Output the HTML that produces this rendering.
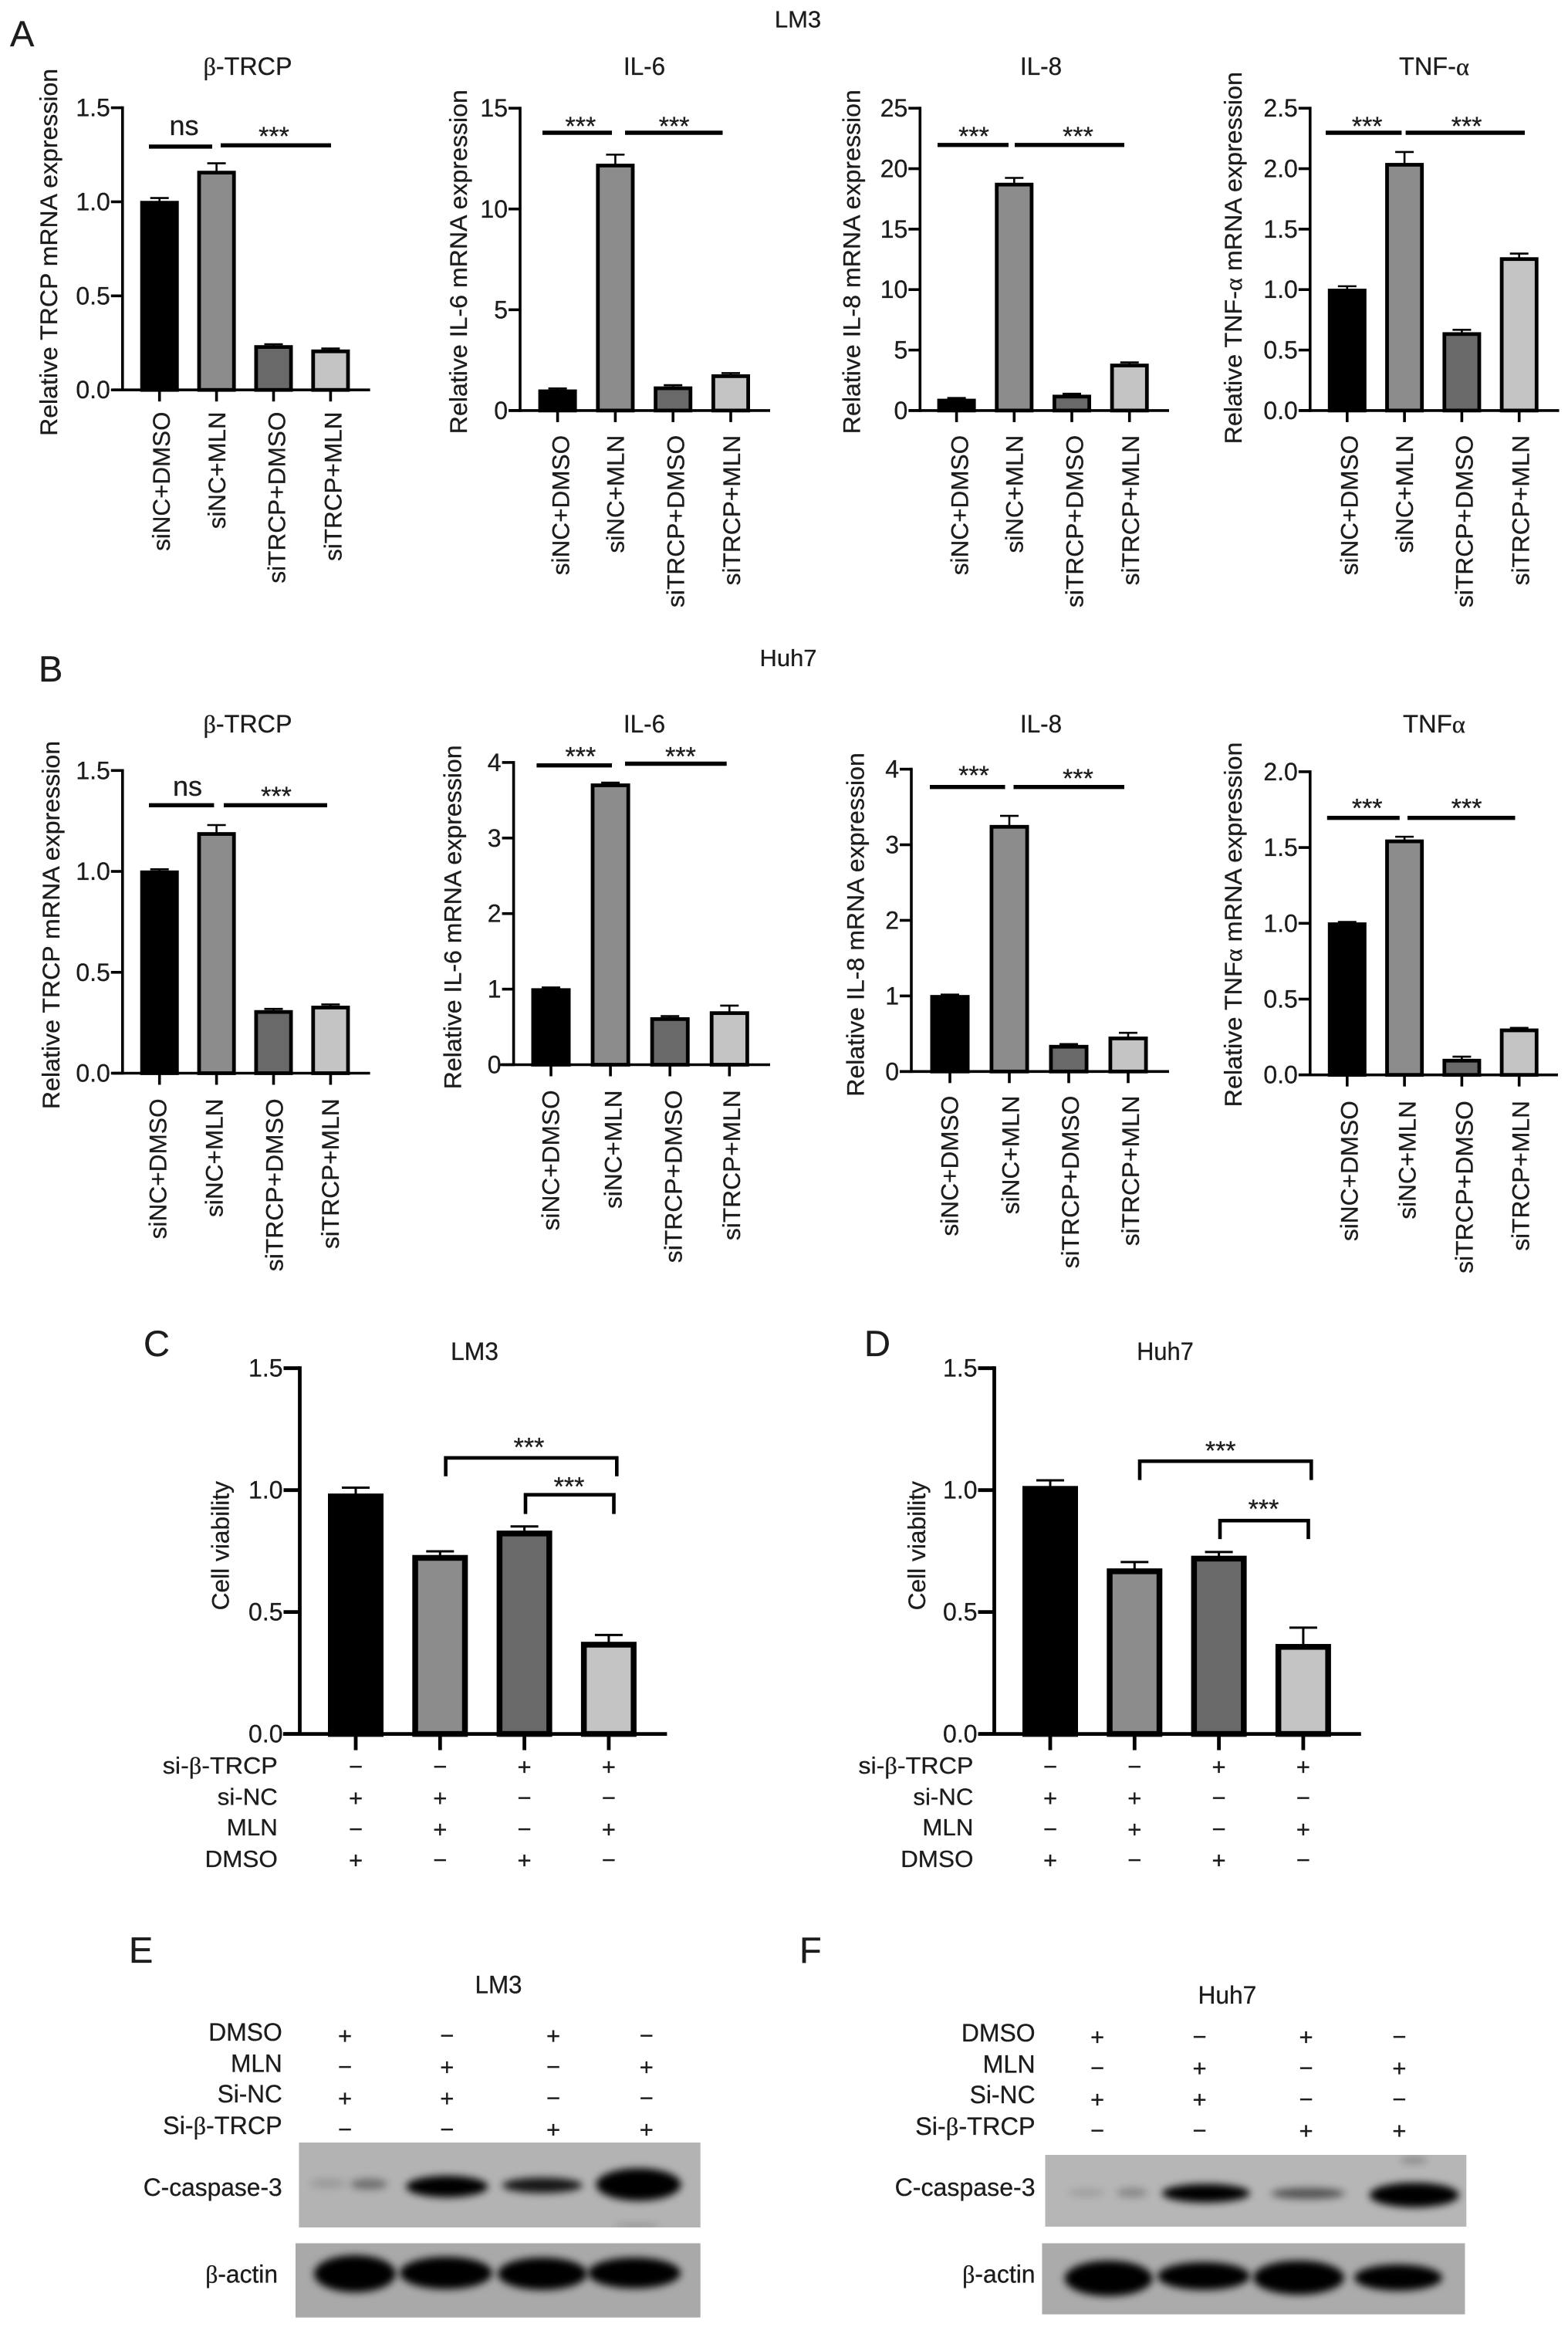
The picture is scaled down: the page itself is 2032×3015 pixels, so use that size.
<!DOCTYPE html>
<html lang="en">
<head>
<meta charset="utf-8">
<title>LM3 and Huh7 expression, viability and western blot figure</title>
<style>
html,body{margin:0;padding:0;background:#fff}
svg{display:block}
text{font-family:"Liberation Sans",sans-serif;fill:#1c1c1c;stroke:#1c1c1c;stroke-width:.3px}
</style>
</head>
<body>
<svg id="figure" xmlns="http://www.w3.org/2000/svg" width="2032" height="3015" viewBox="0 0 2032 3015">
<defs>
<filter id="bandBlur" x="-40%" y="-120%" width="180%" height="340%"><feGaussianBlur stdDeviation="5"/></filter>
<clipPath id="clipE1"><rect x="387.4" y="2776" width="520.3" height="110"/></clipPath>
<clipPath id="clipE2"><rect x="383" y="2906.5" width="524.7" height="96.2"/></clipPath>
<clipPath id="clipF1"><rect x="1354.5" y="2792" width="545.8" height="93"/></clipPath>
<clipPath id="clipF2"><rect x="1350.4" y="2906.5" width="548.1" height="92.1"/></clipPath>
</defs>

<rect x="0" y="0" width="2032" height="3015" fill="#fff"/>

<!-- Panel letters and section headings -->
<text x="13" y="60" font-size="47">A</text>
<text x="50" y="883" font-size="47">B</text>
<text x="186" y="1757" font-size="47">C</text>
<text x="1120" y="1757" font-size="47">D</text>
<text x="167" y="2543" font-size="47">E</text>
<text x="1036" y="2543" font-size="47">F</text>
<text x="1034" y="35.6" font-size="31" text-anchor="middle">LM3</text>
<text x="1021.5" y="862.8" font-size="31" text-anchor="middle">Huh7</text>

<!-- Panel E western blot -->
<g>
<text x="646" y="2582.4" font-size="32" text-anchor="middle" textLength="61" lengthAdjust="spacingAndGlyphs">LM3</text>
<text x="365.7" y="2643.8" font-size="32" text-anchor="end" textLength="95.4" lengthAdjust="spacingAndGlyphs">DMSO</text>
<text x="365.7" y="2684.7" font-size="32" text-anchor="end" textLength="66.7" lengthAdjust="spacingAndGlyphs">MLN</text>
<text x="365.7" y="2724" font-size="32" text-anchor="end" textLength="84" lengthAdjust="spacingAndGlyphs">Si-NC</text>
<text x="365.7" y="2764.9" font-size="32" text-anchor="end" textLength="154.5" lengthAdjust="spacingAndGlyphs">Si-<tspan font-family="Liberation Serif">β</tspan>-TRCP</text>
<text x="365.7" y="2845" font-size="32" text-anchor="end" textLength="180" lengthAdjust="spacingAndGlyphs">C-caspase-3</text>
<text x="360" y="2957.7" font-size="32" text-anchor="end" textLength="93.8" lengthAdjust="spacingAndGlyphs"><tspan font-family="Liberation Serif">β</tspan>-actin</text>
<rect x="387.4" y="2776" width="520.3" height="110" fill="#b3b3b3"/>
<g clip-path="url(#clipE1)">
<ellipse cx="425" cy="2829" rx="24" ry="6" fill="#000" opacity=".14" filter="url(#bandBlur)"/>
<ellipse cx="478" cy="2830" rx="24" ry="7" fill="#000" opacity=".38" filter="url(#bandBlur)"/>
<ellipse cx="579.3" cy="2833" rx="53" ry="14" fill="#000" filter="url(#bandBlur)"/>
<ellipse cx="702.8" cy="2831.4" rx="52" ry="10" fill="#000" opacity=".88" filter="url(#bandBlur)"/>
<ellipse cx="827.5" cy="2830.4" rx="55" ry="21" fill="#000" filter="url(#bandBlur)"/>
<ellipse cx="825" cy="2884" rx="30" ry="3" fill="#000" opacity=".2" filter="url(#bandBlur)"/>
</g>
<rect x="383" y="2906.5" width="524.7" height="96.2" fill="#a9a9a9"/>
<g clip-path="url(#clipE2)">
<ellipse cx="460" cy="2946" rx="53" ry="24" fill="#000" filter="url(#bandBlur)"/>
<ellipse cx="578" cy="2945" rx="60" ry="21" fill="#000" filter="url(#bandBlur)"/>
<ellipse cx="703" cy="2946" rx="58" ry="21" fill="#000" filter="url(#bandBlur)"/>
<ellipse cx="822" cy="2945" rx="60" ry="20" fill="#000" filter="url(#bandBlur)"/>
</g>
</g>

<!-- Panel F western blot -->
<g>
<text x="1590.4" y="2596" font-size="32" text-anchor="middle" textLength="75.7" lengthAdjust="spacingAndGlyphs">Huh7</text>
<text x="1341.6" y="2645" font-size="32" text-anchor="end" textLength="95.7" lengthAdjust="spacingAndGlyphs">DMSO</text>
<text x="1341.6" y="2685.7" font-size="32" text-anchor="end" textLength="68" lengthAdjust="spacingAndGlyphs">MLN</text>
<text x="1341.6" y="2725" font-size="32" text-anchor="end" textLength="85" lengthAdjust="spacingAndGlyphs">Si-NC</text>
<text x="1341.6" y="2765.9" font-size="32" text-anchor="end" textLength="155.5" lengthAdjust="spacingAndGlyphs">Si-<tspan font-family="Liberation Serif">β</tspan>-TRCP</text>
<text x="1341.6" y="2845" font-size="32" text-anchor="end" textLength="182" lengthAdjust="spacingAndGlyphs">C-caspase-3</text>
<text x="1341.6" y="2957.7" font-size="32" text-anchor="end" textLength="94.5" lengthAdjust="spacingAndGlyphs"><tspan font-family="Liberation Serif">β</tspan>-actin</text>
<rect x="1354.5" y="2792" width="545.8" height="93" fill="#b6b6b6"/>
<g clip-path="url(#clipF1)">
<ellipse cx="1408" cy="2841" rx="24" ry="5" fill="#000" opacity=".13" filter="url(#bandBlur)"/>
<ellipse cx="1467" cy="2841" rx="20" ry="6" fill="#000" opacity=".26" filter="url(#bandBlur)"/>
<ellipse cx="1562.8" cy="2841.7" rx="57" ry="12" fill="#000" filter="url(#bandBlur)"/>
<ellipse cx="1695" cy="2842" rx="48" ry="7" fill="#000" opacity=".55" filter="url(#bandBlur)"/>
<ellipse cx="1832.8" cy="2844" rx="58" ry="16" fill="#000" filter="url(#bandBlur)"/>
<ellipse cx="1832" cy="2799" rx="18" ry="4" fill="#000" opacity=".28" filter="url(#bandBlur)"/>
</g>
<rect x="1350.4" y="2906.5" width="548.1" height="92.1" fill="#ababab"/>
<g clip-path="url(#clipF2)">
<ellipse cx="1436.7" cy="2952" rx="57" ry="23" fill="#000" filter="url(#bandBlur)"/>
<ellipse cx="1560" cy="2949" rx="60" ry="18" fill="#000" filter="url(#bandBlur)"/>
<ellipse cx="1683" cy="2951" rx="59" ry="22" fill="#000" filter="url(#bandBlur)"/>
<ellipse cx="1812" cy="2951" rx="57" ry="17" fill="#000" filter="url(#bandBlur)"/>
</g>
</g>

<g id="charts"></g>
</svg>

<script>
// ---- shared categories ----
const categories = ["siNC+DMSO", "siNC+MLN", "siTRCP+DMSO", "siTRCP+MLN"];
const barFills = ["#000000", "#8c8c8c", "#696969", "#c4c4c4"];

// ---- Panel A values ----
const a1Values = [1.0, 1.16, 0.233, 0.21];
const a1Errors = [0.015, 0.04, 0.005, 0.005];
const a1Ticks = ["0.0", "0.5", "1.0", "1.5"];
const a2Values = [1.0, 12.2, 1.15, 1.75];
const a2Errors = [0.05, 0.45, 0.06, 0.06];
const a2Ticks = ["0", "5", "10", "15"];
const a3Values = [0.9, 18.76, 1.23, 3.8];
const a3Errors = [0.06, 0.4, 0.08, 0.1];
const a3Ticks = ["0", "5", "10", "15", "20", "25"];
const a4Values = [1.0, 2.04, 0.64, 1.26];
const a4Errors = [0.02, 0.09, 0.02, 0.03];
const a4Ticks = ["0.0", "0.5", "1.0", "1.5", "2.0", "2.5"];

// ---- Panel B values ----
const b1Values = [1.0, 1.19, 0.308, 0.33];
const b1Errors = [0.006, 0.035, 0.006, 0.006];
const b1Ticks = ["0.0", "0.5", "1.0", "1.5"];
const b2Values = [1.0, 3.71, 0.616, 0.695];
const b2Errors = [0.01, 0.01, 0.015, 0.075];
const b2Ticks = ["0", "1", "2", "3", "4"];
const b3Values = [1.0, 3.25, 0.34, 0.45];
const b3Errors = [0.005, 0.12, 0.01, 0.05];
const b3Ticks = ["0", "1", "2", "3", "4"];
const b4Values = [1.0, 1.547, 0.1, 0.3];
const b4Errors = [0.003, 0.018, 0.014, 0.004];
const b4Ticks = ["0.0", "0.5", "1.0", "1.5", "2.0"];

// ---- Panels C and D values ----
const viabilityTicks = ["0.0", "0.5", "1.0", "1.5"];
const cValues = [0.98, 0.728, 0.828, 0.372];
const cErrors = [0.024, 0.015, 0.017, 0.028];
const dValues = [1.011, 0.673, 0.725, 0.363];
const dErrors = [0.023, 0.026, 0.015, 0.067];
const treatmentNames = ["si-β-TRCP", "si-NC", "MLN", "DMSO"];
const trcpSigns = ["−", "−", "+", "+"];
const ncSigns = ["+", "+", "−", "−"];
const mlnSigns = ["−", "+", "−", "+"];
const dmsoSigns = ["+", "−", "+", "−"];

// ---- chart frames (geometry lives here, not in the data arrays) ----
const lensA = [181.5, 152.7, 223.3, 194.6];
const lensB = [182, 153.6, 223.8, 194.7];
const charts = [
 {id:"a1", values:a1Values, errors:a1Errors, ticks:a1Ticks, title:"β-TRCP", titleX:321, titleY:96.8, titleW:115,
  yLabel:"Relative TRCP mRNA expression", yLabelX:63, yLabelTop:88.9, yLabelBottom:564.9,
  axisX:158.8, top:139.6, zero:505.2, xStart:146, xEnd:479.6, first:206.7, step:73.9, barW:50,
  labelTop:533.5, labelDx:[2,0,3.5,2.6], labelLens:[180.4,151.7,222.3,193.5],
  sig:[{x1:193,x2:275,y:189.9,text:"ns",tx:238.5,ty:175},{x1:286,x2:429,y:188.3,text:"***",tx:355,ty:169}]},
 {id:"a2", values:a2Values, errors:a2Errors, ticks:a2Ticks, title:"IL-6", titleX:835, titleY:96.8, titleW:54,
  yLabel:"Relative IL-6 mRNA expression", yLabelX:594, yLabelTop:116.1, yLabelBottom:562.2,
  axisX:674, top:140.2, zero:531.9, xStart:660, xEnd:998, first:722.6, step:74.8, barW:50,
  labelTop:563.8, labelDx:[3.4,-0.4,2.8,0.5], labelLens:lensA,
  sig:[{x1:703,x2:793,y:172,text:"***",tx:752.4,ty:155.9},{x1:810,x2:936.5,y:172,text:"***",tx:873.6,ty:155.9}]},
 {id:"a3", values:a3Values, errors:a3Errors, ticks:a3Ticks, title:"IL-8", titleX:1349, titleY:96.8, titleW:54,
  yLabel:"Relative IL-8 mRNA expression", yLabelX:1103.5, yLabelTop:116.1, yLabelBottom:562.2,
  axisX:1192.3, top:140.2, zero:531.9, xStart:1178, xEnd:1515, first:1239.6, step:74.7, barW:50,
  labelTop:563.8, labelDx:[3.4,-0.3,3,0.8], labelLens:lensA,
  sig:[{x1:1215,x2:1307,y:187.8,text:"***",tx:1262,ty:168.9},{x1:1315,x2:1457,y:187.8,text:"***",tx:1397,ty:168.9}]},
 {id:"a4", values:a4Values, errors:a4Errors, ticks:a4Ticks, title:"TNF-α", titleX:1858.5, titleY:96.8, titleW:91,
  yLabel:"Relative TNF-α mRNA expression", yLabelX:1598, yLabelTop:93.1, yLabelBottom:575.3,
  axisX:1697.8, top:140.2, zero:531.9, xStart:1683.5, xEnd:2020.5, first:1745.8, step:74.3, barW:50,
  labelTop:563.8, labelDx:[2.2,-0.5,3,1.3], labelLens:lensA,
  sig:[{x1:1718,x2:1816.4,y:172,text:"***",tx:1771.7,ty:155.9},{x1:1821.6,x2:1976,y:172,text:"***",tx:1900.6,ty:155.9}]},
 {id:"b1", values:b1Values, errors:b1Errors, ticks:b1Ticks, title:"β-TRCP", titleX:321, titleY:948.9, titleW:115,
  yLabel:"Relative TRCP mRNA expression", yLabelX:66, yLabelTop:959.9, yLabelBottom:1437.1,
  axisX:158.8, top:998.3, zero:1390.5, xStart:146, xEnd:479.6, first:206.7, step:73.9, barW:50,
  labelTop:1423.4, labelDx:[-2.7,-3.2,0.5,-0.7], labelLens:lensB,
  sig:[{x1:193,x2:277.4,y:1043.3,text:"ns",tx:243,ty:1031},{x1:290,x2:424,y:1043.3,text:"***",tx:358,ty:1024}]},
 {id:"b2", values:b2Values, errors:b2Errors, ticks:b2Ticks, title:"IL-6", titleX:835, titleY:948.9, titleW:54,
  yLabel:"Relative IL-6 mRNA expression", yLabelX:586.5, yLabelTop:965.4, yLabelBottom:1411.3,
  axisX:665.6, top:987.9, zero:1379.5, xStart:648, xEnd:998, first:714, step:77.1, barW:51,
  labelTop:1412.4, labelDx:[-1,2.9,3.8,2.2], labelLens:lensB,
  sig:[{x1:695.4,x2:793,y:991.7,text:"***",tx:752.4,ty:972.5},{x1:810,x2:941.7,y:989.5,text:"***",tx:882,ty:972.5}]},
 {id:"b3", values:b3Values, errors:b3Errors, ticks:b3Ticks, title:"IL-8", titleX:1349, titleY:948.9, titleW:54,
  yLabel:"Relative IL-8 mRNA expression", yLabelX:1108.7, yLabelTop:975.2, yLabelBottom:1420.7,
  axisX:1181, top:996.6, zero:1388.3, xStart:1166, xEnd:1515, first:1231, step:77, barW:51,
  labelTop:1419.6, labelDx:[-1,1,1.7,2.5], labelLens:lensB,
  sig:[{x1:1205,x2:1302.5,y:1019.7,text:"***",tx:1262,ty:997.2},{x1:1313.5,x2:1457,y:1019.7,text:"***",tx:1397,ty:1001}]},
 {id:"b4", values:b4Values, errors:b4Errors, ticks:b4Ticks, title:"TNFα", titleX:1858.5, titleY:948.9, titleW:81,
  yLabel:"Relative TNFα mRNA expression", yLabelX:1598, yLabelTop:961.5, yLabelBottom:1434.4,
  axisX:1697.8, top:999.9, zero:1392.7, xStart:1683.5, xEnd:2019, first:1745.8, step:74.3, barW:50,
  labelTop:1426.1, labelDx:[2.5,2.9,3,1.3], labelLens:lensB,
  sig:[{x1:1719.8,x2:1813.8,y:1059.7,text:"***",tx:1771.7,ty:1039.4},{x1:1824,x2:1963.5,y:1059.7,text:"***",tx:1900.6,ty:1039.4}]},
 {id:"c", values:cValues, errors:cErrors, ticks:viabilityTicks, title:"LM3", titleX:615, titleY:1762.2, titleW:62,
  yLabel:"Cell viability", yLabelX:285.5, yLabelTop:1919, yLabelBottom:2086.4,
  axisX:388.5, top:1772.7, zero:2246.6, xStart:366.8, xEnd:864.4, first:461, step:109.3, barW:72,
  big:true, tableRight:359.8,
  brackets:[{x1:577.6,x2:799.3,y:1888.9,drop:1912.8,tx:685.5,ty:1867.4},{x1:681,x2:795.5,y:1936.7,drop:1961.6,tx:737.5,ty:1918.6}]},
 {id:"d", values:dValues, errors:dErrors, ticks:viabilityTicks, title:"Huh7", titleX:1510, titleY:1762.2, titleW:73.7,
  yLabel:"Cell viability", yLabelX:1188, yLabelTop:1919, yLabelBottom:2086.4,
  axisX:1288.5, top:1772.7, zero:2246.6, xStart:1269.5, xEnd:1763.8, first:1361, step:109.3, barW:72,
  big:true, tableRight:1261.4,
  brackets:[{x1:1477,x2:1699.3,y:1893.2,drop:1917.6,tx:1581.7,ty:1872.2},{x1:1581,x2:1695.5,y:1970.2,drop:1994.1,tx:1637.5,ty:1947.7}]}
];
const tableRows = [
 {signs:trcpSigns, width:149, base:2297.8, mid:2289.2},
 {signs:ncSigns, width:78, base:2338.4, mid:2329.4},
 {signs:mlnSigns, width:66, base:2378.1, mid:2370},
 {signs:dmsoSigns, width:94.3, base:2418.8, mid:2410.2}
];

const NS = "http://www.w3.org/2000/svg";
const root = document.getElementById("charts");

function make(tag, attrs, parent) {
  const node = document.createElementNS(NS, tag);
  for (const key in attrs) node.setAttribute(key, attrs[key]);
  parent.appendChild(node);
  return node;
}
// Greek letters use the serif family, as in the reference.
function fillText(node, str) {
  str.split(/([αβ])/).forEach(function (part) {
    if (!part) return;
    if (part === "α" || part === "β") {
      const span = document.createElementNS(NS, "tspan");
      span.setAttribute("font-family", "Liberation Serif");
      span.textContent = part;
      node.appendChild(span);
    } else {
      node.appendChild(document.createTextNode(part));
    }
  });
}

charts.forEach(function (c) {
  const yMax = Number(c.ticks[c.ticks.length - 1]);
  const yScale = function (v) { return c.zero - (v / yMax) * (c.zero - c.top); };
  const xScale = function (i) { return c.first + i * c.step; };
  const sw = c.big ? 7.5 : 4.8;
  const axisW = c.big ? 4.8 : 3.6;
  const tickLen = c.big ? 21 : 15;

  const g = make("g", {}, root);
  
  

  const title = make("text", {x:c.titleX, y:c.titleY, "font-size":32, "text-anchor":"middle", textLength:c.titleW, lengthAdjust:"spacingAndGlyphs"}, g);
  fillText(title, c.title);
  
  

  const yTitleLen = c.yLabelBottom - c.yLabelTop;
  const yTitle = make("text", {transform:"translate(" + (c.yLabelX + 11) + "," + c.yLabelBottom + ") rotate(-90)", "font-size":31.5, textLength:yTitleLen, lengthAdjust:"spacingAndGlyphs"}, g);
  fillText(yTitle, c.yLabel);
  
  

  // bars and error bars
  c.values.forEach(function (v, i) {
    const cx = xScale(i);
    const top = yScale(v) + sw / 4;
    const errTop = yScale(v + c.errors[i]) - sw / 4;
    const capW = c.big ? 36 : 24;
    const stem = make("line", {x1:cx, x2:cx, y1:top, y2:errTop, stroke:"#000", "stroke-width":c.big ? 3 : 2.6}, g);
    
    
    const cap = make("line", {x1:cx - capW / 2, x2:cx + capW / 2, y1:errTop, y2:errTop, stroke:"#000", "stroke-width":c.big ? 3 : 2.6}, g);
    
    
    const bar = make("rect", {x:cx - c.barW / 2 + sw / 2, y:top, width:c.barW - sw, height:Math.max(0, c.zero - top), fill:barFills[i], stroke:"#000", "stroke-width":sw}, g);
    
    
  });

  // axes
  const yAxis = make("line", {x1:c.axisX, x2:c.axisX, y1:c.top - axisW / 2, y2:c.zero + axisW / 2, stroke:"#000", "stroke-width":axisW}, g);
  
  
  const xAxis = make("line", {x1:c.xStart, x2:c.xEnd, y1:c.zero, y2:c.zero, stroke:"#000", "stroke-width":axisW}, g);
  
  

  c.ticks.forEach(function (label) {
    const ty = yScale(Number(label));
    const tick = make("line", {x1:c.axisX - tickLen, x2:c.axisX, y1:ty, y2:ty, stroke:"#000", "stroke-width":axisW}, g);
    
    
    const lab = make("text", {x:c.axisX - tickLen - 1, y:ty + 11, "font-size":32, "text-anchor":"end"}, g);
    lab.textContent = label;
    
    
  });

  categories.forEach(function (cat, i) {
    const cx = xScale(i);
    const tick = make("line", {x1:cx, x2:cx, y1:c.zero, y2:c.zero + tickLen, stroke:"#000", "stroke-width":axisW}, g);
    
    
    if (!c.big) {
      const lab = make("text", {transform:"translate(" + (cx + c.labelDx[i] + 11.3) + "," + c.labelTop + ") rotate(-90)", "font-size":31.5, "text-anchor":"end", textLength:c.labelLens[i], lengthAdjust:"spacingAndGlyphs"}, g);
      lab.textContent = cat;
      
      
    }
  });

  // significance lines
  (c.sig || []).forEach(function (s, i) {
    const line = make("line", {x1:s.x1, x2:s.x2, y1:s.y, y2:s.y, stroke:"#000", "stroke-width":5.4}, g);
    
    
    const isNs = s.text === "ns";
    const lab = make("text", {x:s.tx, y:isNs ? s.ty : s.ty + 19, "font-size":isNs ? 36 : 34, "text-anchor":"middle"}, g);
    lab.textContent = s.text;
    
    
  });

  // significance brackets
  (c.brackets || []).forEach(function (b, i) {
    const path = make("path", {d:"M" + b.x1 + " " + b.drop + "V" + b.y + "H" + b.x2 + "V" + b.drop, fill:"none", stroke:"#000", "stroke-width":4.6}, g);
    
    
    const lab = make("text", {x:b.tx, y:b.ty + 19, "font-size":34, "text-anchor":"middle"}, g);
    lab.textContent = "***";
    
    
  });

  // treatment table
  if (c.big) {
    tableRows.forEach(function (row, r) {
      const name = make("text", {x:c.tableRight, y:row.base, "font-size":31, "text-anchor":"end", textLength:row.width, lengthAdjust:"spacingAndGlyphs"}, g);
      fillText(name, treatmentNames[r]);
      
      
      row.signs.forEach(function (sign, i) {
        const mark = make("text", {x:xScale(i), y:row.mid + 10.5, "font-size":31, "text-anchor":"middle"}, g);
        mark.textContent = sign;
        
        
      });
    });
  }
});

// Sign grids for the western blots (panels E and F)
const blotRowSigns = [dmsoSigns, mlnSigns, ncSigns, trcpSigns];
const blotGrids = [
 {id:"e", xs:[447, 579.3, 717, 837.8], mids:[2637.6, 2678.2, 2718.5, 2759]},
 {id:"f", xs:[1422, 1554.6, 1692.5, 1813.4], mids:[2639, 2679.6, 2719.9, 2760.4]}
];
blotGrids.forEach(function (grid) {
  blotRowSigns.forEach(function (signs, r) {
    signs.forEach(function (sign, i) {
      const mark = make("text", {x:grid.xs[i], y:grid.mids[r] + 10.5, "font-size":31, "text-anchor":"middle"}, root);
      mark.textContent = sign;
      
      
    });
  });
});
</script>
</body>
</html>
